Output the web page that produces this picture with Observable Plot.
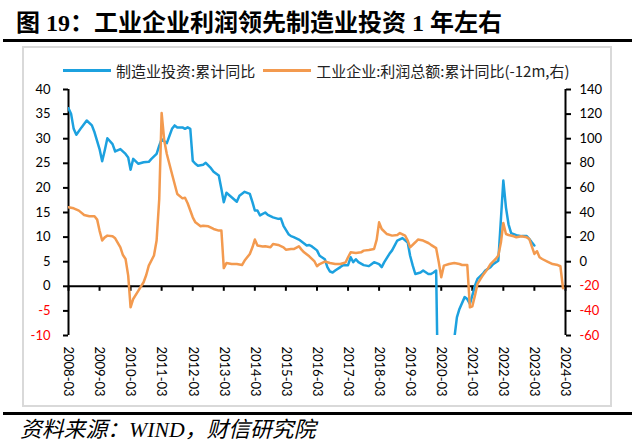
<!DOCTYPE html>
<html>
<head>
<meta charset="utf-8">
<script src="https://cdn.jsdelivr.net/npm/d3@7"></script>
<script src="https://cdn.jsdelivr.net/npm/@observablehq/plot@0.6"></script>
<style>
  html, body { margin: 0; padding: 0; background: #fff; }
  body { width: 640px; height: 447px; position: relative; overflow: hidden; }
  #title { position: absolute; left: 16px; top: 11px; font-size: 24px; line-height: 24px; font-weight: 700;
           font-family: "Liberation Serif", "Noto Sans CJK SC", serif; color: #000; white-space: nowrap; }
  .hr { position: absolute; left: 3px; width: 629px; height: 3px; background: #000; }
  #frame { position: absolute; left: 22px; top: 46px; width: 590px; height: 361px; box-sizing: border-box;
           border: 2px solid #d9d9d9; }
  #legend { position: absolute; left: 63px; top: 61px; height: 18px; display: flex; align-items: center;
            font-family: "Noto Sans CJK SC", sans-serif; font-size: 15px; color: #222; white-space: nowrap; }
  .sw { display: inline-block; width: 48px; height: 3px; }
  #source { position: absolute; left: 20px; top: 419px; font-size: 21.8px; line-height: 22px; font-style: italic;
            font-family: "Liberation Serif", "Noto Sans CJK SC", serif; color: #000; white-space: nowrap; }
  #chart { position: absolute; left: 0; top: 80px; }
</style>
</head>
<body>
<div id="title">图 19：工业企业利润领先制造业投资 1 年左右</div>
<div class="hr" style="top:39px"></div>
<div id="frame"></div>
<div id="legend"></div>
<div id="chart"></div>
<div class="hr" style="top:412px"></div>
<div id="source">资料来源：WIND，财信研究院</div>
<script>
// ---------- data ----------
const seriesNames = ["制造业投资:累计同比", "工业企业:利润总额:累计同比(-12m,右)"];
const seriesColors = ["#1ca1df", "#f39a4f"];

const leftTicks = [-10, -5, 0, 5, 10, 15, 20, 25, 30, 35, 40];
const rightTicks = [-60, -40, -20, 0, 20, 40, 60, 80, 100, 120, 140];
const xTickLabels = ["2008-03","2009-03","2010-03","2011-03","2012-03","2013-03","2014-03","2015-03",
  "2016-03","2017-03","2018-03","2019-03","2020-03","2021-03","2022-03","2023-03","2024-03"];

// 制造业投资:累计同比 (left axis, %)
const investDates = ["2008-03","2008-04","2008-05","2008-06","2008-08","2008-10","2008-12","2009-01","2009-03","2009-04",
  "2009-05","2009-06","2009-08","2009-09","2009-11","2010-01","2010-02","2010-03","2010-04","2010-06",
  "2010-08","2010-10","2010-11","2011-01","2011-02","2011-03","2011-05","2011-07","2011-08","2011-09",
  "2011-11","2011-12","2012-01","2012-02","2012-03","2012-04","2012-05","2012-07","2012-08","2012-10",
  "2012-11","2013-01","2013-02","2013-03","2013-04","2013-06","2013-08","2013-09","2013-11","2014-01",
  "2014-02","2014-03","2014-04","2014-05","2014-07","2014-08","2014-10","2014-12","2015-01","2015-02",
  "2015-04","2015-05","2015-06","2015-08","2015-09","2015-11","2015-12","2016-01","2016-03","2016-04",
  "2016-06","2016-07","2016-08","2016-09","2016-10","2016-12","2017-01","2017-03","2017-04","2017-05",
  "2017-06","2017-07","2017-09","2017-11","2017-12","2018-01","2018-03","2018-04","2018-05","2018-07",
  "2018-08","2018-09","2018-10","2018-12","2019-02","2019-03","2019-04","2019-05","2019-07","2019-08",
  "2019-10","2019-11","2019-12","2020-01","2020-02","2020-03","2020-05","2020-07","2020-08","2020-09",
  "2020-10","2020-12","2021-01","2021-02","2021-03","2021-04","2021-05","2021-07","2021-08","2021-10",
  "2021-11","2022-01","2022-03","2022-04","2022-05","2022-06","2022-08","2022-10","2022-12","2023-01",
  "2023-02","2023-03"];
const investValues = [36.2,35,32,30.8,32.3,33.7,32.7,31.3,27.9,25.4,
  27.6,30.1,28.9,27.4,27.9,26.9,26.2,23.7,25.9,24.9,
  25.2,25.3,25.9,26.9,28.6,29.9,29.1,32,32.7,32.3,
  32.3,32.0,32.3,32,25.5,24.9,24.5,24.7,25.1,24,
  23.3,22.5,19.8,17.1,19,18.1,17.2,18.4,19.2,18.8,
  17.1,15.4,15.4,14.4,15,14.5,14,13.7,13.8,12.3,
  10.6,10.2,10,9.5,9.1,8.3,8.4,8.1,7.3,6.2,
  5.5,3.9,3.0,2.8,3.2,3.9,4.3,4.3,5.9,4.9,
  5.5,4.9,4.3,4.1,4.5,4.9,4.5,3.9,4.9,6.6,
  7.3,8.3,9.3,9.8,8.9,6.2,4.2,2.5,2.8,3.2,
  2.5,2.5,2.8,3.2,-31.5,-25,-15,-12,-10.7,-6.3,
  -4.6,-2.2,-2.6,-3.6,-1.9,0.1,1.5,2.5,3.2,3.9,
  4.5,5.2,21.5,16,12.6,10.8,10.4,10.2,10.2,9.6,
  8.9,8.3];

// 工业企业:利润总额:累计同比(-12m) (right axis, %)
const profitDates = ["2008-03","2008-05","2008-07","2008-09","2008-11","2009-01","2009-02","2009-03","2009-04","2009-05",
  "2009-06","2009-08","2009-09","2009-11","2009-12","2010-01","2010-02","2010-03","2010-04","2010-06",
  "2010-08","2010-09","2010-10","2010-12","2011-01","2011-02","2011-03","2011-04","2011-05","2011-07",
  "2011-09","2011-11","2011-12","2012-01","2012-03","2012-04","2012-06","2012-07","2012-09","2012-11",
  "2013-01","2013-02","2013-03","2013-04","2013-06","2013-08","2013-10","2013-11","2014-01","2014-02",
  "2014-03","2014-04","2014-06","2014-07","2014-09","2014-10","2014-12","2015-02","2015-03","2015-05",
  "2015-06","2015-08","2015-09","2015-10","2015-12","2016-02","2016-03","2016-04","2016-06","2016-08",
  "2016-10","2016-12","2017-02","2017-03","2017-04","2017-06","2017-08","2017-09","2017-11","2018-01",
  "2018-02","2018-03","2018-04","2018-06","2018-08","2018-10","2018-11","2019-01","2019-02","2019-03",
  "2019-05","2019-06","2019-08","2019-10","2019-11","2020-01","2020-02","2020-03","2020-04","2020-06",
  "2020-08","2020-10","2020-11","2021-01","2021-02","2021-03","2021-04","2021-05","2021-06","2021-07",
  "2021-09","2021-10","2021-12","2022-01","2022-02","2022-03","2022-04","2022-05","2022-07","2022-08",
  "2022-10","2022-12","2023-01","2023-02","2023-03","2023-04","2023-05","2023-06","2023-08","2023-10",
  "2023-12","2024-01","2024-02"];
const profitValues = [44.3,43.4,41.5,38,36.9,36.9,34.2,25.3,17.2,19.8,
  21.2,20.7,19,11.7,5.4,2.2,-11.3,-37.1,-30.3,-23.5,
  -16.7,-10.8,-3.2,5,17.2,51,120.9,98.5,87.6,71.3,
  55,51.5,52,47.5,36.1,32,28.8,29.3,28.8,26.6,
  25.3,25.3,-5.2,-1.1,-1.9,-1.9,-2.7,0.9,6.3,11.7,
  18,13.1,12.3,12.5,11.7,14.4,13.6,11.7,9.8,10.3,
  10.3,12.5,9.8,7.6,4.4,0.2,-3.7,-1.9,0.1,-1.1,
  -1.9,-1.9,-0.5,3.6,7.6,7,7.6,9,9.5,10.3,
  18,32,26.6,22.5,21.2,21.7,23.3,21.2,17.2,11.7,
  15.8,18,17.2,15.2,13.7,11,-0.5,-12.7,-3.2,-1.9,
  -1.1,-1.9,-2.7,-2.7,-37.1,-36.3,-27.6,-18.1,-14.5,-11.3,
  -5.5,-1.9,2.2,5,15.8,31.5,22.5,21.7,20.7,19.8,
  20.7,19.8,18.4,12,6.3,8.5,3.6,2.2,0.1,-1.9,
  -2.7,-3.7,-21.6];

// ---------- build ----------
const parse = d3.utcParse("%Y-%m");
const lMin = leftTicks[0], lMax = leftTicks[leftTicks.length - 1];
const rMin = rightTicks[0], rMax = rightTicks[rightTicks.length - 1];
const toLeft = r => lMin + (r - rMin) * (lMax - lMin) / (rMax - rMin);

const invest = investDates.map((d, i) => ({date: parse(d), value: investValues[i]}));
const profit = profitDates.map((d, i) => ({date: parse(d), value: toLeft(profitValues[i])}));
const xTicks = xTickLabels.map(parse);
const xDomain = [xTicks[0], xTicks[xTicks.length - 1]];
const red = "#ff0000";

const chart = Plot.plot({
  width: 640,
  height: 320,
  marginTop: 9,
  marginBottom: 65,
  marginLeft: 68,
  marginRight: 75,
  x: {type: "utc", domain: xDomain},
  y: {domain: [lMin, lMax]},
  marks: [
    Plot.ruleY([0], {stroke: "#000", strokeWidth: 2}),
    Plot.ruleX(xDomain, {stroke: "#000", strokeWidth: 2}),
    Plot.axisY(leftTicks, {anchor: "left", tickSize: 5, tickFormat: () => "", strokeWidth: 2, label: null}),
    Plot.axisY(leftTicks, {anchor: "right", tickSize: 5, tickFormat: () => "", strokeWidth: 2, label: null}),
    Plot.text(leftTicks.filter(d => d >= 0), {y: d => d, text: d => String(d), frameAnchor: "left", dx: -18, textAnchor: "end", fill: "#000"}),
    Plot.text(leftTicks.filter(d => d < 0), {y: d => d, text: d => String(d), frameAnchor: "left", dx: -18, textAnchor: "end", fill: red}),
    Plot.text(rightTicks.filter(d => d >= 0), {y: toLeft, text: d => String(d), frameAnchor: "right", dx: 14, textAnchor: "start", fill: "#000"}),
    Plot.text(rightTicks.filter(d => d < 0), {y: toLeft, text: d => String(d), frameAnchor: "right", dx: 14, textAnchor: "start", fill: red}),
    Plot.ruleX(xTicks, {x: d => d, y1: 0, y2: 0, insetBottom: -5, stroke: "#000", strokeWidth: 2}),
    Plot.axisX(xTicks, {anchor: "bottom", tickSize: 0, tickPadding: 11, tickRotate: 90, tickFormat: d3.utcFormat("%Y-%m"), label: null, fontSize: 13}),
    Plot.line(invest, {x: "date", y: "value", stroke: seriesColors[0], strokeWidth: 2.5, clip: true}),
    Plot.line(profit, {x: "date", y: "value", stroke: seriesColors[1], strokeWidth: 2.5, clip: true})
  ]
});
chart.style.background = "transparent";
chart.style.overflow = "visible";
chart.style.fontFamily = "Lato, 'Liberation Sans', sans-serif";
chart.style.fontSize = "13px";
chart.style.color = "#000";
document.getElementById("chart").appendChild(chart);

// legend
const legend = document.getElementById("legend");
seriesNames.forEach((name, i) => {
  const sw = document.createElement("span");
  sw.className = "sw";
  sw.style.background = seriesColors[i];
  sw.style.marginLeft = i === 0 ? "0px" : "8px";
  sw.style.marginRight = "5px";
  const t = document.createElement("span");
  t.textContent = name;
  legend.appendChild(sw);
  legend.appendChild(t);
});
</script>
</body>
</html>
